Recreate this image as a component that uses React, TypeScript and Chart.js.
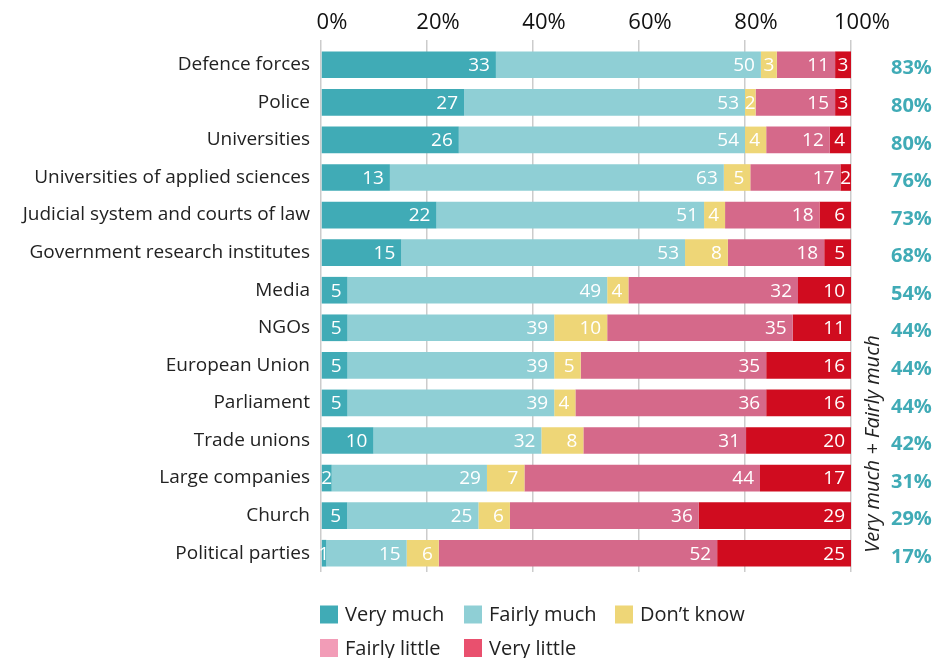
import React, { useEffect, useRef } from "react";
import { Chart, registerables } from "chart.js";

Chart.register(...registerables);

const categories = [
  "Defence forces",
  "Police",
  "Universities",
  "Universities of applied sciences",
  "Judicial system and courts of law",
  "Government research institutes",
  "Media",
  "NGOs",
  "European Union",
  "Parliament",
  "Trade unions",
  "Large companies",
  "Church",
  "Political parties",
];

const veryMuch = [33, 27, 26, 13, 22, 15, 5, 5, 5, 5, 10, 2, 5, 1];
const fairlyMuch = [50, 53, 54, 63, 51, 53, 49, 39, 39, 39, 32, 29, 25, 15];
const dontKnow = [3, 2, 4, 5, 4, 8, 4, 10, 5, 4, 8, 7, 6, 6];
const fairlyLittle = [11, 15, 12, 17, 18, 18, 32, 35, 35, 36, 31, 44, 36, 52];
const veryLittle = [3, 3, 4, 2, 6, 5, 10, 11, 16, 16, 20, 17, 29, 25];
const totals = [83, 80, 80, 76, 73, 68, 54, 44, 44, 44, 42, 31, 29, 17];

const seriesNames = ["Very much", "Fairly much", "Don\u2019t know", "Fairly little", "Very little"];
const seriesData = [veryMuch, fairlyMuch, dontKnow, fairlyLittle, veryLittle];
const barColors = ["#40ABB6", "#8FCFD5", "#EED677", "#D5698A", "#D00C1F"];
const legendColors = ["#40ABB6", "#8FCFD5", "#EED677", "#F29CB7", "#E9506E"];
const totalsTitle = "Very much + Fairly much";

const FONT = "'Open Sans', sans-serif";

// each row shown as shares of 100%
const rowSums = categories.map((_, i) => seriesData.reduce((s, arr) => s + arr[i], 0));
const shareData = seriesData.map((arr) => arr.map((v, i) => (v / rowSums[i]) * 100));

const overlayPlugin = {
  id: "overlay",
  afterDatasetsDraw(chart: any) {
    const ctx = chart.ctx;
    const area = chart.chartArea;
    ctx.save();
    // segment value labels
    ctx.font = `19px ${FONT}`;
    ctx.fillStyle = "#ffffff";
    ctx.textBaseline = "middle";
    chart.data.datasets.forEach((ds: any, di: number) => {
      const meta = chart.getDatasetMeta(di);
      meta.data.forEach((bar: any, i: number) => {
        const txt = String(seriesData[di][i]);
        const tw = ctx.measureText(txt).width;
        const segW = bar.x - bar.base;
        if (segW < tw + 10) {
          ctx.textAlign = "center";
          ctx.fillText(txt, (bar.x + bar.base) / 2, bar.y + 1);
        } else {
          ctx.textAlign = "right";
          ctx.fillText(txt, bar.x - 6, bar.y + 1);
        }
      });
    });
    // totals
    const meta0 = chart.getDatasetMeta(0);
    ctx.font = `bold 20px ${FONT}`;
    ctx.fillStyle = "#40ABB6";
    ctx.textAlign = "left";
    totals.forEach((t, i) => {
      ctx.fillText(t + "%", area.right + 40, meta0.data[i].y + 4);
    });
    // rotated title
    ctx.save();
    ctx.translate(area.right + 22, 444);
    ctx.rotate(-Math.PI / 2);
    ctx.font = `italic 20px ${FONT}`;
    ctx.fillStyle = "#222222";
    ctx.textAlign = "center";
    ctx.fillText(totalsTitle, 0, 0);
    ctx.restore();
    // legend
    const colX = [area.left - 1, area.left + 143, area.left + 294];
    const rowY = [614.5, 648];
    ctx.font = `20px ${FONT}`;
    ctx.textAlign = "left";
    ctx.textBaseline = "middle";
    seriesNames.forEach((name, i) => {
      const col = i < 3 ? i : i - 3;
      const row = i < 3 ? 0 : 1;
      const x = colX[col];
      const y = rowY[row];
      ctx.fillStyle = legendColors[i];
      ctx.fillRect(x, y - 9, 18, 18);
      ctx.fillStyle = "#222222";
      ctx.fillText(name, x + 25, y + 1);
    });
    ctx.restore();
  },
};

export default function App() {
  const canvasRef = useRef<HTMLCanvasElement | null>(null);

  useEffect(() => {
    if (!canvasRef.current) return;
    const chart = new Chart(canvasRef.current, {
      type: "bar",
      data: {
        labels: categories,
        datasets: seriesNames.map((name, i) => ({
          label: name,
          data: shareData[i],
          backgroundColor: barColors[i],
          borderWidth: 0,
          categoryPercentage: 1,
          barPercentage: 0.71,
        })),
      },
      options: {
        indexAxis: "y",
        responsive: true,
        maintainAspectRatio: false,
        animation: false,
        layout: { padding: { left: 0, right: 100, top: 0, bottom: 86 } },
        plugins: {
          legend: { display: false },
          tooltip: { enabled: false },
        },
        scales: {
          x: {
            position: "top",
            stacked: true,
            min: 0,
            max: 100,
            ticks: {
              stepSize: 20,
              padding: 4,
              labelOffset: 11,
              color: "#111111",
              font: { family: FONT, size: 22 },
              callback: (v: any) => v + "%",
            },
            grid: { color: "#cccccc", lineWidth: 1.5, tickLength: 6, drawTicks: true },
            border: { display: false },
            afterFit: (scale: any) => {
              scale.height = 46;
            },
          },
          y: {
            stacked: true,
            ticks: {
              padding: 11,
              color: "#222222",
              font: { family: FONT, size: 19 },
            },
            grid: { display: false, drawTicks: false },
            border: { display: false },
            afterFit: (scale: any) => {
              scale.width = 321;
            },
          },
        },
      } as any,
      plugins: [overlayPlugin],
    });
    return () => chart.destroy();
  }, []);

  return (
    <div style={{ position: "absolute", left: 0, top: 0, width: 951, height: 658 }}>
      <canvas ref={canvasRef} />
    </div>
  );
}
